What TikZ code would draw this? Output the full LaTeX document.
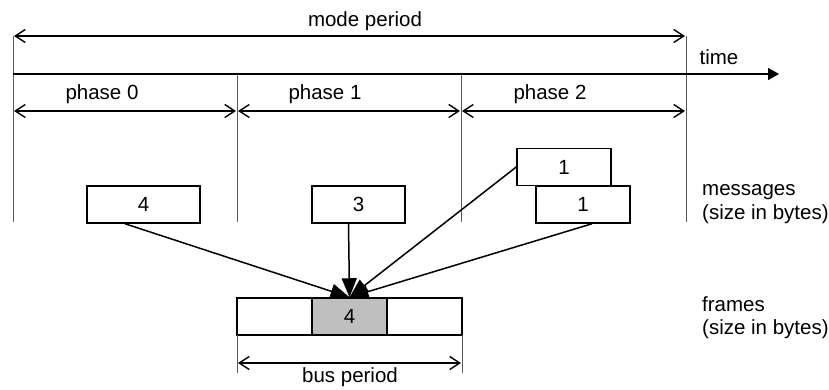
\documentclass[tikz,border=0pt]{standalone}
\usepackage{fontspec}
\setmainfont{Liberation Sans}
\usetikzlibrary{arrows.meta}
\begin{document}
\begin{tikzpicture}[x=1pt,y=-1pt,
  font=\fontsize{20.5}{24}\selectfont,
  tick/.style={draw=black!65, line width=1pt},
  span/.style={line width=1.6pt, {Straight Barb[length=10pt,width=13pt,line width=1.4pt]}-{Straight Barb[length=10pt,width=13pt,line width=1.4pt]}},
  conn/.style={line width=1.5pt, -{Triangle[length=19pt,width=15pt]}},
  box/.style={draw, line width=1.5pt, inner sep=0pt, minimum height=37pt},
  lbl/.style={anchor=base, inner sep=0pt},
  side/.style={anchor=base west, inner sep=0pt}]
\useasboundingbox (0,0) rectangle (829,390);
% reference points
\coordinate (L0) at (13,36);
\coordinate (L0b) at (13,222);
\coordinate (R0) at (686,36);
\coordinate (R0b) at (686,222);
\coordinate (P1) at (237,74);
\coordinate (P1b) at (237,222);
\coordinate (P2) at (461,74);
\coordinate (P2b) at (461,222);
\coordinate (T0) at (13,74);
\coordinate (T1) at (779,74);
% vertical ticks
\draw[tick] (L0) -- (L0b);
\draw[tick] (R0) -- (R0b);
\draw[tick] (P1) -- (P1b);
\draw[tick] (P2) -- (P2b);
% time axis
\draw[line width=1.6pt, -{Triangle[length=11pt,width=12pt]}] (T0) -- (T1);
\node[lbl] (time) at (719,65) {time};
% mode period
\draw[span] ([xshift=1pt]L0) -- ([xshift=-1pt]R0);
\node[lbl] (mp) at (365,27) {mode period};
% phases
\draw[span] ([xshift=1pt]13,111) -- (236,111);
\draw[span] (238,111) -- (460,111);
\draw[span] (462,111) -- (685,111);
\node[lbl] (ph0) at (102,100) {phase 0};
\node[lbl] (ph1) at (325,100) {phase 1};
\node[lbl] (ph2) at (550,100) {phase 2};
% messages
\node[box, minimum width=113pt] (m4) at (143.5,204.5) {4};
\node[box, minimum width=93pt] (m3) at (358.5,204.5) {3};
\node[box, minimum width=94pt] (u1) at (564,167) {1};
\node[box, minimum width=94pt, fill=white] (l1) at (583,204.5) {1};
% frame
\node[box, minimum width=225pt] (fr) at (349.5,316.5) {};
\node[box, minimum width=75pt, fill=black!25] (g) at (349.5,316.5) {4};
% connectors
\draw[conn] ([xshift=-18.5pt]m4.south) -- (g.north);
\draw[conn] ([xshift=-10pt]m3.south) -- (g.north);
\draw[conn] (u1.west) -- (g.north);
\draw[conn] ([xshift=9pt]l1.south) -- (g.north);
% side labels
\node[side] (msg) at (702,196) {messages};
\node[side] (msg2) at (702,219) {(size in bytes)};
\node[side] (frm) at (702,311) {frames};
\node[side] (frm2) at (702,334) {(size in bytes)};
% bus period
\coordinate (B0) at (237,335);
\coordinate (B0b) at (237,373);
\coordinate (B1) at (462,335);
\coordinate (B1b) at (462,373);
\draw[tick] (B0) -- (B0b);
\draw[tick] (B1) -- (B1b);
\draw[span] (238,363) -- (461,363);
\node[lbl] (bp) at (350,382) {bus period};
\end{tikzpicture}
\end{document}
